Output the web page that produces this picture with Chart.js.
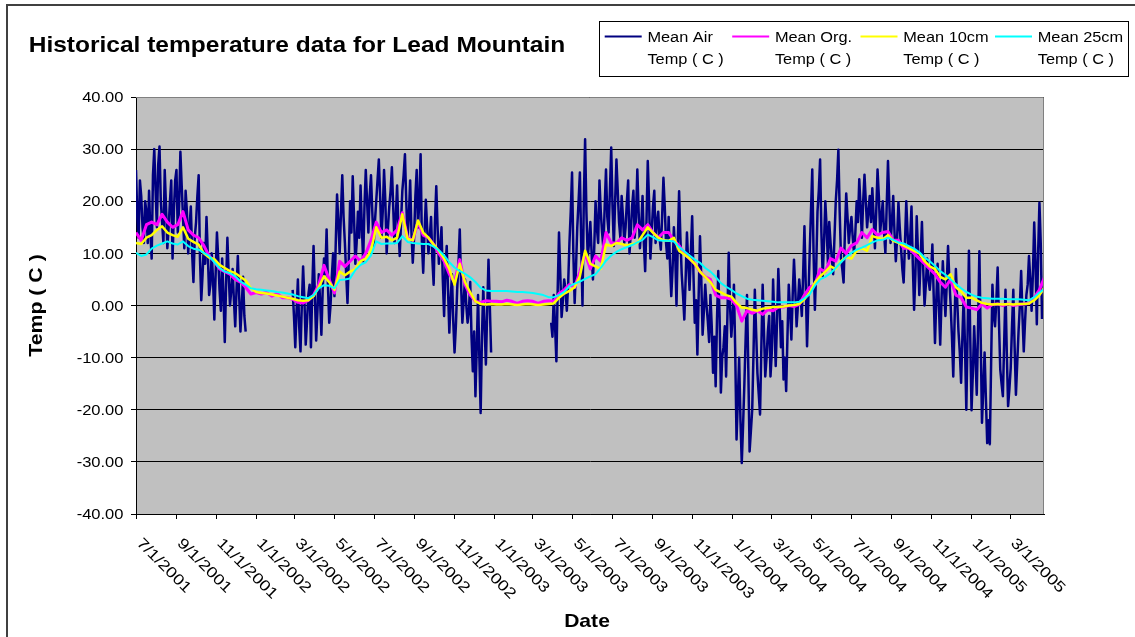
<!DOCTYPE html>
<html>
<head>
<meta charset="utf-8">
<title>Historical temperature data for Lead Mountain</title>
<script src="https://cdn.jsdelivr.net/npm/chart.js@4.4.1/dist/chart.umd.min.js"></script>
<style>
  html, body { margin: 0; padding: 0; background: #fff; }
  canvas { display: block; }
</style>
</head>
<body>
<canvas id="myChart" width="1135" height="637"></canvas>
<script>
const chartTitle = 'Historical temperature data for Lead Mountain';
const startDate = '7/1/2001';
const axisEndDate = '4/22/2005';
const tickLabels = ['7/1/2001', '9/1/2001', '11/1/2001', '1/1/2002', '3/1/2002', '5/1/2002',
  '7/1/2002', '9/1/2002', '11/1/2002', '1/1/2003', '3/1/2003', '5/1/2003', '7/1/2003',
  '9/1/2003', '11/1/2003', '1/1/2004', '3/1/2004', '5/1/2004', '7/1/2004', '9/1/2004',
  '11/1/2004', '1/1/2005', '3/1/2005'];
const seriesNames = ['Mean Air Temp ( C )', 'Mean Org. Temp ( C )', 'Mean 10cm Temp ( C )', 'Mean 25cm Temp ( C )'];
const seriesColors = ['#000080', '#ff00ff', '#ffff00', '#00ffff'];
const seriesWidths = [2.5, 3, 2.5, 2];

// air temp every 2 days, soil temps every 8 days
const airStepDays = 2;
const soilStepDays = 8;

const airTemp = [
  // jul - dec 2001
  26, 17, 13, 24, 21, 15, 12, 20, 18, 12, 22, 14, 9, 25, 30, 22, 15, 27, 30.5, 20,
  16, 12, 26, 19, 11, 15, 20, 24, 9, 18, 24, 26, 14, 19, 29.5, 23, 17, 11, 22, 18,
  10, 15, 19, 10, 4.5, 13, 16, 21, 25, 9, 1, 6, 12, 8, 17, 10, 2, 4, 10, 5,
  -2.7, 6, 14, 9, 3, -1, 9, 2, -7, 4, 13, 6, 0, 3, 7, 1, -4, 3, 9.5, 2,
  -5, 0, 5.5, -2, -5,
  // no air data
  null, null, null, null, null, null, null, null, null, null,
  null, null, null, null, null, null, null, null, null, null,
  null, null, null, null, null, null, null, null, null, null,
  null, null, null, null, null,
  // feb - dec 2002
  3, -2, -8, -1, 5, -4, -8.8, 0, 7.5, 1, -7.5, -3, 2, 4, -8, 3, 11.4, 2, -6.7, -1,
  6, 1, -5.6, 3, 9, 6, 14.6, 4, -3.3, 0, 5.6, 10, 1.8, 12, 21.3, 16, 10, 18, 25, 17,
  12, 6, 0.5, 9, 20, 14, 24.8, 17, 8, 12, 18, 13, 23, 15, 8.5, 19, 26, 20, 14, 21,
  25, 18, 11.4, 16, 20, 24, 28, 21, 13, 18, 26, 20, 10, 15, 19, 22, 26.5, 19, 12, 17,
  23, 15, 9.5, 16, 22, 25, 29, 20, 13, 17, 24, 14, 8.2, 13, 21, 26, 15, 20, 29, 12,
  6.3, 14, 20.3, 15, 10, 13, 17, 9, 4, 16, 22.9, 15, 8, 11, 15, 5, -2, 7, 11.4, 3,
  -5.2, 1, 6, -3, -9, -4, 3, 8, 14.6, 4, -3.3, 1, 5, 0, -3.3, -1, 4.5, -6, -12.6, -5,
  -17.4, -8, 2, -10, -20.6, -6, 3.5, -4, -11.3, -1, 8.8, 0, -9,
  // no air data
  null, null, null, null, null, null, null, null, null, null,
  null, null, null, null, null, null, null, null, null, null,
  null, null, null, null, null, null, null, null, null, null,
  null, null, null, null, null, null, null, null, null, null,
  null, null, null, null, null,
  // mar 2003 - apr 2005
  -3.3, -6, 2, -4, -10.7, 3, 14, 6, -2.2, 1, 5, 3, -1, 4, 12, 18, 25.5, 10, 0.5, 7,
  15, 20, 25.5, 12, 0, 20, 31.9, 18, 9.3, 12, 16, 10, 5, 11, 20, 15, 12, 24, 18, 14,
  11, 19, 26.1, 17, 14, 22, 30.3, 19, 11.4, 20, 28, 22, 16, 13, 21, 17, 12, 15, 20, 24,
  10, 14, 19, 22, 13, 17, 26.1, 18, 11, 15, 21, 12, 6.6, 16, 27.7, 20, 9, 14, 19, 22,
  12, 16, 18, 13, 10.7, 17, 24.5, 19, 12, 9, 17, 8, 1.8, 7, 15, 10, 0, 12, 21.9, 13,
  6, 2, -2.7, 5, 14, 8, 3, 10, 17.1, 6, -3.3, 1, -9.4, 2, 13.3, 5, -5.6, -1, 4, 0,
  -3, -7, 2, -4, -12.9, -6, -15.5, -3, 6.6, -2, -16.7, -10, -8, -4, -13.6, -2, 10.1, 0, -6, -2,
  4, -9, -25.7, -18, -10, -22, -30.2, -23, -15, -6, 2, -12, -28, -24, -20, -9, 3, -5, -13, -17,
  -20.9, -8, 4, -5, -13.6, -10, -5, -2, -13.6, -9, 5, -4, -11.6, -3, 7, 0, -8, -3, -14.2, -10,
  -16.4, -6, 4, -1, -6.5, 2, 8.8, 3, -4, 0, 5, 2, -2, 6, 15.2, 4, -7.8, 1, 10, 18,
  26.1, 10, -0.8, 7, 18, 22, 28, 14, 5.6, 12, 20, 15, 8, 16, 12, 9, 6, 13, 20, 24,
  29.9, 18, 9, 7, 4.4, 14, 21.5, 17, 12, 15, 17, 13, 10, 14, 20, 16, 24.2, 19, 13, 20,
  25.1, 20, 15, 18, 21, 16, 22.5, 17, 11, 18, 26.1, 21, 14, 17, 20, 14, 10.1, 19, 27.7, 20,
  12, 16, 21, 14, 8.5, 13, 19.8, 15, 11, 7, 4.4, 12, 20, 14, 9, 13, 19, 8, -0.8, 6,
  17.1, 10, 2, 9, 16, 7, 0, 4, 9, 5, 3, 6, 11.7, 2, -7.2, 1, 8, 0, -7.5, 1,
  8.5, 3, -2, 4, 11.4, 5, 0, -6, -13.6, -3, 7, 1, -5, -9, -14.8, -6, 2, -8, -20, -5,
  10.5, -6, -20.1, -13, -4, -10, -17.1, -4, 10.4, -6, -22.5, -16, -9, -18, -26.4, -22, -26.6, -11, 4, -2,
  -4, 1, 7.3, -3, -12.3, -15, -17.4, -7, 3, -9, -19.3, -16, -12, -4, 3, -8, -17.1, -11, -5, 0,
  6.6, -2, -8.8, -3, 2, 4, 9.5, 5, -1, 6, 15.9, 8, -3.6, 10, 19.7, 12, -2.6
];

const orgTemp = [
  14, 12.5, 15.5, 16, 15.5, 17.5, 16, 15, 15.5, 18,
  14.5, 13.5, 13, 11.5, 9.5, 8.5, 7, 6.5, 6, 5,
  4.5, 3.5, 2.2, 2.5, 2.2, 2.5, 1.8, 2.3, 1.5, 1.5,
  1.2, 0.6, 0.5, 1, 2, 4, 7.7, 5, 2.4, 8.5,
  7.5, 8.5, 9.5, 8.5, 10, 12.5, 16, 14, 14.5, 13.5,
  14.5, 17.8, 13, 12.5, 16, 13.5, 13, 11.7, 10, 8.5,
  6, 4.5, 8.8, 4, 2, 0.8, 0.6, 0.9, 0.8, 0.8,
  0.7, 1, 0.8, 0.4, 0.8, 0.9, 0.8, 0.4, 0.8, 0.9,
  0.8, 2.3, 3, 4, 3.5, 6.5, 10, 7, 9.5, 8.5,
  14, 12, 12, 13, 12.5, 13, 15.5, 14.5, 15.5, 14,
  13, 14, 14, 12.5, 11.5, 10, 9, 8, 6.5, 5.5,
  5, 2, 1.5, 1.5, 1.2, 0, -3, -1, -1.5, -1,
  -1.7, -0.8, -1, -0.3, -0.3, 0, -0.2, 0.2, 2, 3.5,
  4, 7, 6.5, 9, 8.5, 11, 10, 11.5, 12, 14,
  13, 14.6, 13.5, 14, 14.2, 12.5, 12.5, 11, 11, 10,
  9, 8, 7, 6, 4.5, 3.5, 5, 2, 1.5, -0.3,
  -0.5, -0.8, 0.3, -0.5, 0.2, 0.3, 0, 0.3, 0, 0.2,
  0.3, 0.4, 1.5, 3, 5.5
];

const tenCmTemp = [
  12, 11.8, 13, 13.5, 14.5, 15.2, 14, 13.5, 13.2, 15,
  12.8, 12.2, 11.7, 10, 9.2, 8.9, 7.8, 7.2, 6.6, 6.2,
  5.5, 4.8, 3.3, 2.6, 2.4, 2.3, 2.1, 1.9, 1.7, 1.5,
  1.3, 1, 0.9, 1, 1.8, 3.5, 5.6, 4.5, 3, 6.5,
  5.8, 6.5, 7, 8.5, 9, 10.5, 15, 13, 13.2, 12.5,
  13, 17.5, 12.8, 12.5, 16.3, 14, 13, 11.7, 10.5, 9,
  7, 4, 8, 4.5, 2.5, 0.8, 0.3, 0.2, 0.3, 0.2,
  0.2, 0.3, 0.2, 0.1, 0.2, 0.3, 0.2, 0.1, 0.2, 0.3,
  0.4, 1.5, 2.3, 2.8, 3.5, 5.6, 10.5, 8, 7.5, 7,
  11.7, 11.4, 12, 11.8, 11.5, 11.8, 12, 13.5, 15, 14,
  13, 12.5, 12.4, 13, 10.5, 9.8, 9, 8, 6.5, 5.5,
  4.5, 3, 2.5, 2, 1.7, 0.5, -0.4, -0.5, -0.8, -1,
  -0.6, -0.5, -0.3, -0.3, -0.2, 0, 0.1, 0.3, 1.2, 2.5,
  4.4, 5.6, 6.5, 7.5, 7, 8.5, 9.3, 9, 10.5, 11,
  10.5, 13.3, 13, 12.7, 13.5, 12.4, 12, 11.5, 11, 10.5,
  10, 8.5, 7.5, 7, 5.5, 5, 6, 3.5, 2.7, 1.5,
  1.5, 1, 0.5, 0.3, 0.2, 0.3, 0.2, 0.3, 0.2, 0.3,
  0.3, 0.4, 1, 2, 3.5
];

const twentyFiveCmTemp = [
  10.1, 9.5, 9.8, 10.9, 11.5, 11.9, 12.3, 11.9, 11.7, 12.3,
  11.4, 10.9, 10.7, 10.1, 9.5, 8.3, 7.2, 6.5, 6.2, 5.6,
  4.6, 4, 3.3, 3.1, 3, 2.9, 2.8, 2.6, 2.5, 2.3,
  2.1, 1.8, 1.6, 1.4, 2, 3.3, 3.9, 3.8, 3.3, 4.9,
  5, 5.2, 6.8, 7.8, 8.3, 9.6, 12.3, 11.8, 11.9, 11.9,
  12, 13.3, 12.2, 12, 11.9, 11.8, 11.8, 11.3, 10.6, 9.6,
  8.3, 7.3, 6.6, 6.1, 5.4, 4.5, 3.4, 2.9, 2.8, 2.8,
  2.8, 2.8, 2.7, 2.6, 2.6, 2.5, 2.4, 2.2, 2, 1.6,
  1.6, 2, 2.6, 3.7, 4.2, 4.6, 5.1, 5.6, 6, 7.2,
  8.6, 9.6, 10.3, 10.8, 11.2, 11.6, 12.1, 12.6, 13.6, 13.1,
  12.5, 12.4, 12.4, 12.3, 11.2, 10.4, 9.6, 8.8, 8.2, 7.2,
  6.5, 5.5, 4.3, 3.6, 3, 2.3, 1.8, 1.3, 1.1, 1,
  0.9, 0.8, 0.7, 0.6, 0.6, 0.6, 0.6, 0.7, 1.4, 2.1,
  3.8, 5, 5.5, 6.2, 7.2, 8.3, 9.3, 10.1, 10.7, 11.1,
  11.6, 12.1, 12.5, 12.6, 13, 12.6, 12.1, 11.9, 11.4, 10.9,
  10.2, 9.2, 8.5, 7.6, 6.6, 5.9, 5, 4.1, 3.3, 2.6,
  2.1, 1.7, 1.5, 1.4, 1.3, 1.3, 1.3, 1.2, 1.2, 1.2,
  1.1, 1, 1.6, 2.5, 3.2
];

const chartFont = "'Liberation Sans', Arial, sans-serif";

function dayOf(label) {
  const p = label.split('/').map(Number);
  const s = startDate.split('/').map(Number);
  return (Date.UTC(p[2], p[0] - 1, p[1]) - Date.UTC(s[2], s[0] - 1, s[1])) / 86400000;
}

function toPoints(values, step) {
  return values.map((v, i) => ({x: i * step, y: v}));
}

// draw text a little wider than the font, like the original picture
function stretchText(ctx, text, x, y, stretch, align) {
  const w = ctx.measureText(text).width * stretch;
  let x0 = x;
  if (align === 'center') x0 = x - w / 2;
  if (align === 'right') x0 = x - w;
  ctx.save();
  ctx.translate(x0, y);
  ctx.scale(stretch, 1);
  ctx.textAlign = 'left';
  ctx.fillText(text, 0, 0);
  ctx.restore();
}

const excelLook = {
  id: 'excelLook',
  beforeDraw(chart) {
    const ctx = chart.ctx, a = chart.chartArea;
    ctx.save();
    ctx.fillStyle = '#ffffff';
    ctx.fillRect(0, 0, chart.width, chart.height);
    ctx.fillStyle = '#c0c0c0';
    ctx.fillRect(a.left, a.top, a.right - a.left, a.bottom - a.top);
    ctx.restore();
  },
  afterDraw(chart) {
    const ctx = chart.ctx, a = chart.chartArea;
    const xs = chart.scales.x, ys = chart.scales.y;
    ctx.save();

    // grey plot border top and right
    ctx.strokeStyle = '#808080';
    ctx.lineWidth = 1;
    ctx.beginPath();
    ctx.moveTo(a.left, a.top + 0.5);
    ctx.lineTo(a.right - 0.5, a.top + 0.5);
    ctx.lineTo(a.right - 0.5, a.bottom);
    ctx.stroke();

    // outer chart frame
    ctx.strokeStyle = '#404040';
    ctx.lineWidth = 2;
    ctx.beginPath();
    ctx.moveTo(7, chart.height);
    ctx.lineTo(7, 5);
    ctx.lineTo(chart.width, 5);
    ctx.stroke();

    ctx.fillStyle = '#000';
    ctx.textBaseline = 'alphabetic';

    ctx.font = 'bold 21.5px ' + chartFont;
    stretchText(ctx, chartTitle, 28.7, 52, 1.14, 'left');

    // y tick labels
    ctx.font = '14.5px ' + chartFont;
    ys.ticks.forEach(t => {
      stretchText(ctx, t.value.toFixed(2), a.left - 12.5, ys.getPixelForValue(t.value) + 5.2, 1.14, 'right');
    });

    // x tick labels, turned 45 degrees down
    ctx.font = '15px ' + chartFont;
    tickLabels.forEach(lbl => {
      const px = xs.getPixelForValue(dayOf(lbl));
      ctx.save();
      ctx.translate(px, 544);
      ctx.rotate(Math.PI / 4);
      stretchText(ctx, lbl, 0, 0, 1.2, 'left');
      ctx.restore();
    });

    // axis titles
    ctx.font = 'bold 18.5px ' + chartFont;
    stretchText(ctx, 'Date', 587, 627, 1.14, 'center');
    ctx.save();
    ctx.translate(41.7, (a.top + a.bottom) / 2);
    ctx.rotate(-Math.PI / 2);
    stretchText(ctx, 'Temp ( C )', 0, 0, 1.15, 'center');
    ctx.restore();

    // legend
    ctx.fillStyle = '#fff';
    ctx.fillRect(599.5, 21.5, 529, 55);
    ctx.strokeStyle = '#000';
    ctx.lineWidth = 1;
    ctx.strokeRect(599.5, 21.5, 529, 55);
    const sampleX = [604.7, 732.2, 860.5, 995];
    ctx.font = '15.5px ' + chartFont;
    seriesNames.forEach((name, i) => {
      const words = name.split(' ');
      ctx.strokeStyle = seriesColors[i];
      ctx.lineWidth = 2;
      ctx.beginPath();
      ctx.moveTo(sampleX[i], 36.5);
      ctx.lineTo(sampleX[i] + 37, 36.5);
      ctx.stroke();
      ctx.fillStyle = '#000';
      stretchText(ctx, words.slice(0, 2).join(' '), sampleX[i] + 42.7, 42, 1.055, 'left');
      stretchText(ctx, words.slice(2).join(' '), sampleX[i] + 42.7, 63.5, 1.055, 'left');
    });

    ctx.restore();
  }
};

const ctx = document.getElementById('myChart').getContext('2d');
const allSeries = [airTemp, orgTemp, tenCmTemp, twentyFiveCmTemp];
const steps = [airStepDays, soilStepDays, soilStepDays, soilStepDays];

const myChart = new Chart(ctx, {
  type: 'line',
  data: {
    datasets: allSeries.map((vals, i) => ({
      label: seriesNames[i],
      data: toPoints(vals, steps[i]),
      borderColor: seriesColors[i],
      backgroundColor: seriesColors[i],
      borderWidth: seriesWidths[i],
      borderJoinStyle: 'round',
      pointRadius: 0,
      tension: 0,
      spanGaps: false,
      order: 3 - i
    }))
  },
  plugins: [excelLook],
  options: {
    responsive: false,
    animation: false,
    devicePixelRatio: 1,
    layout: {padding: {left: 0, top: 97, right: 91, bottom: 0}},
    plugins: {legend: {display: false}, title: {display: false}, tooltip: {enabled: false}},
    scales: {
      x: {
        type: 'linear',
        min: 0,
        max: dayOf(axisEndDate),
        afterBuildTicks: scale => { scale.ticks = tickLabels.map(l => ({value: dayOf(l)})); },
        afterFit: scale => { scale.height = 123; },
        ticks: {display: false},
        grid: {display: true, drawOnChartArea: false, drawTicks: true, tickLength: 5, color: '#000'},
        border: {display: true, color: '#000', width: 1}
      },
      y: {
        min: -40,
        max: 40,
        afterFit: scale => { scale.width = 136; },
        ticks: {display: false, stepSize: 10},
        grid: {color: '#000', lineWidth: 1, drawTicks: true, tickLength: 5},
        border: {display: true, color: '#000', width: 1}
      }
    }
  }
});
</script>
</body>
</html>
